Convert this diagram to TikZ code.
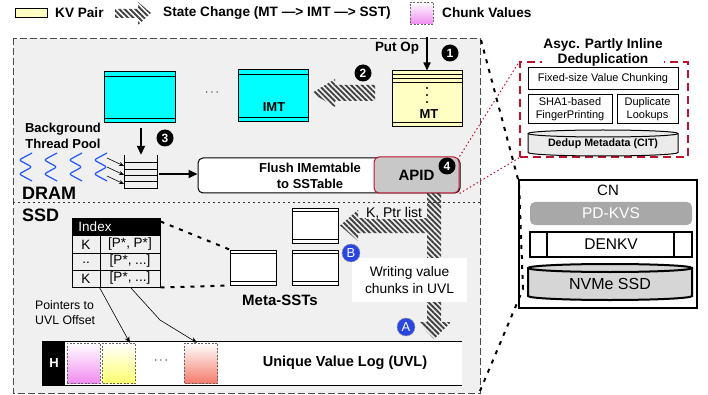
\documentclass[tikz,border=0pt]{standalone}
\usepackage{fontspec}
\setmainfont{Liberation Sans}
\usetikzlibrary{arrows.meta,patterns.meta,calc}
\definecolor{bggray}{HTML}{F0F0F0}
\definecolor{kvyellow}{HTML}{FFFFC4}
\definecolor{imtcyan}{HTML}{00FFFF}
\definecolor{apidgray}{HTML}{C8C8C8}
\definecolor{dedupred}{HTML}{C0142E}
\definecolor{pdgray}{HTML}{A8A8A8}
\definecolor{ssdgray}{HTML}{D6D6D6}
\definecolor{citgray}{HTML}{EBEBEB}
\definecolor{chunkpink}{HTML}{F08CF0}
\definecolor{chunkyellow}{HTML}{FFFF70}
\definecolor{chunksalmon}{HTML}{F47C6C}
\definecolor{threadblue}{HTML}{2255FF}
\definecolor{stepblue}{HTML}{2A46E0}
\begin{document}
\begin{tikzpicture}[x=1pt,y=-1pt,
  lgd/.style={font=\fontsize{13.6}{16}\selectfont\bfseries,anchor=west,inner sep=0pt},
  lbl/.style={font=\fontsize{13}{16}\selectfont\bfseries,align=center,inner sep=0pt},
  plain/.style={font=\fontsize{11}{13}\selectfont,align=center,inner sep=0pt},
  numc/.style={circle,fill=black,text=white,inner sep=0pt,minimum size=17pt,font=\fontsize{12}{12}\selectfont\bfseries},
  letc/.style={circle,fill=stepblue,draw=black!40,text=white,inner sep=0pt,minimum size=18pt,font=\fontsize{13}{13}\selectfont},
  memtab/.style={draw,line width=1pt,inner sep=0pt},
  hatch/.style={pattern={Lines[angle=-45,distance=3.8pt,line width=1.9pt]},pattern color=black!75},
  bolddots/.style={line width=2pt,dash pattern=on 4pt off 6pt},
  reddots/.style={dedupred,line width=1pt,dash pattern=on 1.5pt off 2.5pt},
  chunk/.style={draw=black!60,dash pattern=on 2pt off 1.5pt,line width=0.6pt,inner sep=0pt,minimum width=33pt,minimum height=40pt,top color=white},
  bigarrow/.style={-{Triangle[length=9pt,width=8pt]},line width=1.8pt},
  ptr/.style={-{Stealth[length=6pt,width=5pt]},line width=0.6pt}]
\useasboundingbox (0,0) rectangle (708,395);
% legend
\node[draw,line width=1pt,fill=kvyellow,minimum width=32pt,minimum height=9pt,inner sep=0pt] (kvbox) at (31,13.5) {};
\node[lgd] (kvtxt) at (55,13) {KV Pair};
\fill[hatch] (115,9) -- (138,9) -- (138,2) -- (151,13) -- (138,25) -- (138,18) -- (115,18) -- cycle;
\node[lgd] (sctxt) at (163,13) {State Change (MT —> IMT —> SST)};
\node[chunk,bottom color=chunkpink,minimum width=23pt,minimum height=22pt] (cvbox) at (421.5,13) {};
\node[lgd] (cvtxt) at (442,13) {Chunk Values};
% DRAM / SSD frame
\draw[fill=bggray,draw=black!70,line width=0.8pt,dash pattern=on 7pt off 3pt] (13,38) rectangle (480,393);
\draw[black!80,line width=0.9pt,dash pattern=on 2pt off 3pt] (13,202) -- (480,202);
\node[font=\fontsize{18}{18}\selectfont\bfseries,anchor=west,inner sep=0pt] (dram) at (22,193) {DRAM};
\node[font=\fontsize{18}{18}\selectfont\bfseries,anchor=west,inner sep=0pt] (ssd) at (22,215) {SSD};
% memtables
\node[memtab,fill=imtcyan,minimum width=71pt,minimum height=51pt] (imt0) at (140,97.5) {};
\node[memtab,fill=imtcyan,minimum width=70pt,minimum height=52pt] (imt) at (273,96) {};
\foreach \n in {imt0,imt} {
  \draw[line width=1pt] ([yshift=-5pt]\n.north west) -- ([yshift=-5pt]\n.north east);
  \draw[line width=1pt] ([yshift=5pt]\n.south west) -- ([yshift=5pt]\n.south east);
}
\node[font=\fontsize{13}{13}\selectfont] (dots) at (212,93) {$\cdots$};
\node[lbl] (imttxt) at (274,107) {IMT};
\node[memtab,fill=kvyellow,minimum width=70pt,minimum height=56pt] (mt) at (427,99) {};
\foreach \d in {4,8,12}
  \draw[line width=0.8pt] ([yshift=-\d pt]mt.north west) -- ([yshift=-\d pt]mt.north east);
\draw[line width=0.8pt] ([yshift=5pt]mt.south west) -- ([yshift=5pt]mt.south east);
\foreach \y in {88,95,102} \fill (427,\y) circle (1.1pt);
\node[lbl] (mttxt) at (429,114) {MT};
\coordinate (putin) at (427,37);
\draw[-{Triangle[length=8pt,width=7pt]},line width=1.6pt] (putin) -- (mt.north);
\node[lbl,font=\fontsize{13.4}{16}\selectfont\bfseries] (putop) at (397,48) {Put Op};
\node[numc] (n1) at (450,53) {1};
\fill[hatch] (375,85) -- (335,85) -- (335,79) -- (312,93) -- (335,107) -- (335,101) -- (375,101) -- cycle;
\node[numc] (n2) at (363,73) {2};
% background threads and flush queue
\node[lbl] (bgpool) at (63,136) {Background\\Thread Pool};
\foreach \x in {18,43,68,93}
  \draw[threadblue,line width=1.2pt,rounded corners=2.5pt] (\x+14,153) -- (\x+1,160) -- (\x+14,167) -- (\x+1,174) -- (\x+14,181);
\node[minimum width=32pt,minimum height=33pt,inner sep=0pt] (queue) at (141,171.5) {};
\draw[line width=1pt] (queue.north west) -- (queue.south west) -- (queue.south east) -- (queue.north east);
\foreach \y in {163,169.5,176,182} \draw[line width=1pt] (125,\y) -- (157,\y);
\foreach \ya/\yb in {158/166,167/175,176/184}
  \draw[-{Stealth[length=5pt,width=4pt]},line width=0.6pt] (107,\ya) -- (124,\yb);
\draw[bigarrow] ([yshift=-5pt]imt0.south -| queue.north) -- (queue.north);
\node[numc] (n3) at (165,138) {3};
\node[draw,fill=white,line width=1pt,rounded corners=5pt,minimum width=262pt,minimum height=35pt] (flush) at (329,175.5) {};
\draw[bigarrow] ([xshift=2pt]queue.east |- 0,174) -- (flush.west |- 0,174);
\node[lbl] (flushtxt) at (310,176) {Flush IMemtable\\to SSTable};
\node[draw=dedupred,fill=apidgray,line width=1pt,rounded corners=5pt,minimum width=85pt,minimum height=36pt,font=\fontsize{15}{15}\selectfont\bfseries] (apid) at (416.5,175) {APID};
\node[numc] (n4) at (447,166) {4};
% deduplication
\node[draw=dedupred,line width=1.2pt,dash pattern=on 8pt off 5pt,minimum width=168pt,minimum height=95pt] (dedup) at (604,109.5) {};
\node[lbl,fill=white,inner sep=1pt,font=\fontsize{13.7}{15}\selectfont\bfseries] (deduptitle) at (603,52) {Asyc. Partly Inline\\Deduplication};
\node[draw,fill=white,line width=1pt,minimum width=150pt,minimum height=22pt,plain] (chunking) at (603,79) {Fixed-size Value Chunking};
\node[draw,fill=white,line width=1pt,minimum width=84pt,minimum height=29pt,plain] (sha) at (570,109.5) {SHA1-based\\FingerPrinting};
\node[draw,fill=white,line width=1pt,minimum width=61pt,minimum height=29pt,plain] (lookup) at (647.5,109.5) {Duplicate\\Lookups};
\filldraw[fill=citgray,line width=1pt] (528,152.5) arc[start angle=180,end angle=360,x radius=75pt,y radius=3.5pt] -- (678,133.5) arc[start angle=0,end angle=180,x radius=75pt,y radius=3.5pt] -- cycle;
\draw[line width=1pt] (528,133.5) arc[start angle=180,end angle=360,x radius=75pt,y radius=3.5pt];
\node[font=\fontsize{10.7}{12}\selectfont\bfseries,inner sep=0pt] (cit) at (603,144) {Dedup Metadata (CIT)};
\draw[reddots] (apid.north east) -- (dedup.north west);
\draw[reddots] (apid.south east) -- (dedup.south west);
% compute node
\node[draw,line width=2pt,minimum width=178pt,minimum height=128pt] (cn) at (608,244) {};
\node[font=\fontsize{15}{15}\selectfont,inner sep=0pt] (cntxt) at (608,190) {CN};
\node[fill=pdgray,rounded corners=5pt,minimum width=162pt,minimum height=23pt,text=white,font=\fontsize{15.5}{15.5}\selectfont] (pdkvs) at (611,213.5) {PD-KVS};
\node[draw,line width=1.6pt,minimum width=162pt,minimum height=25pt,font=\fontsize{15.5}{15.5}\selectfont] (denkv) at (611,244.5) {DENKV};
\draw[line width=1.6pt] (547,232) -- (547,257) (674,232) -- (674,257);
\filldraw[fill=ssdgray,line width=2pt] (528,296) arc[start angle=180,end angle=360,x radius=82pt,y radius=4pt] -- (692,268) arc[start angle=0,end angle=180,x radius=82pt,y radius=4pt] -- cycle;
\draw[line width=2pt] (528,268) arc[start angle=180,end angle=360,x radius=82pt,y radius=4pt];
\node[font=\fontsize{16}{16}\selectfont,inner sep=0pt] (nvme) at (610,284) {NVMe SSD};
\coordinate (ssdtr) at (481,40);
\coordinate (ssdbr) at (480,391);
\coordinate (nvmel) at (523,289);
\draw[bolddots] (ssdtr) -- ([xshift=1pt,yshift=-4pt]cn.north west) -- (nvmel);
\draw[bolddots] (ssdbr) -- (nvmel);
% index and meta SSTs
\node[draw,line width=1pt,minimum width=88pt,minimum height=69pt,inner sep=0pt] (index) at (116,252.5) {};
\fill[black] (index.north west) rectangle (160,236);
\draw[line width=1pt] (72,253) -- (160,253) (72,270) -- (160,270) (100,236) -- (100,287);
\node[font=\fontsize{13.5}{13.5}\selectfont,text=white,inner sep=0pt] (idxhead) at (95,227) {Index};
\node[font=\fontsize{13.5}{13.5}\selectfont,inner sep=0pt] (k1) at (86,244.5) {K};
\node[font=\fontsize{13.5}{13.5}\selectfont,inner sep=0pt] (p1) at (130,244.5) {[P*, P*]};
\node[font=\fontsize{13.5}{13.5}\selectfont,inner sep=0pt] (k2) at (86,263) {..};
\node[font=\fontsize{13.5}{13.5}\selectfont,inner sep=0pt] (p2) at (130,261.5) {[P*, ...]};
\node[font=\fontsize{13.5}{13.5}\selectfont,inner sep=0pt] (k3) at (86,278.5) {K};
\node[font=\fontsize{13.5}{13.5}\selectfont,inner sep=0pt] (p3) at (130,278.5) {[P*, ...]};
\node[memtab,fill=white,minimum width=46pt,minimum height=35pt] (msst1) at (253,267.5) {};
\node[memtab,fill=white,minimum width=46pt,minimum height=35pt] (msst2) at (315,225.5) {};
\node[memtab,fill=white,minimum width=46pt,minimum height=35pt] (msst3) at (315,267.5) {};
\foreach \n in {msst1,msst2,msst3} {
  \draw[line width=1pt] ([yshift=-4pt]\n.north west) -- ([yshift=-4pt]\n.north east);
  \draw[line width=1pt] ([yshift=4pt]\n.south west) -- ([yshift=4pt]\n.south east);
}
\draw[bolddots] ([yshift=-4pt]index.north east) -- (msst1.north west);
\draw[bolddots] (index.south east) -- (msst1.south west);
\node[lbl,font=\fontsize{15}{15}\selectfont\bfseries] (metatxt) at (280,300) {Meta-SSTs};
% value write path
\fill[hatch] (427,193) -- (441,193) -- (441,322) -- (451,322) -- (434,339) -- (418,322) -- (427,322) -- (427,233) -- (358,233) -- (358,241) -- (340,225.5) -- (358,210) -- (358,218) -- (427,218) -- cycle;
\node[fill=bggray,inner sep=0.5pt,font=\fontsize{14}{14}\selectfont] (kptr) at (394,213) {K, Ptr list};
\node[fill=white,minimum width=115pt,minimum height=44pt,align=center,font=\fontsize{13.8}{17}\selectfont] (writing) at (409.5,280) {Writing value\\chunks in UVL};
\node[letc] (stepb) at (351,253) {B};
\node[letc] (stepa) at (406,327) {A};
% unique value log
\node[fill=white,minimum width=419pt,minimum height=43pt,inner sep=0pt] (uvl) at (252.5,363.5) {};
\draw[line width=1pt] (uvl.north east) -- (uvl.north west) -- (uvl.south west) -- (uvl.south east);
\fill[black] (uvl.north west) rectangle (65,385);
\node[font=\fontsize{13}{13}\selectfont\bfseries,text=white,inner sep=0pt] (hdr) at (54,363.5) {H};
\node[chunk,bottom color=chunkpink] (cpink) at (83.5,363) {};
\node[chunk,bottom color=chunkyellow] (cyellow) at (119,363) {};
\node[font=\fontsize{13}{13}\selectfont] (udots) at (161,361) {$\cdots$};
\node[chunk,bottom color=chunksalmon] (csalmon) at (201,363) {};
\node[font=\fontsize{14.5}{14.5}\selectfont\bfseries,inner sep=0pt] (uvltxt) at (345,363) {Unique Value Log (UVL)};
\node[font=\fontsize{12.3}{15}\selectfont,align=left,anchor=west,inner sep=0pt] (ptrtxt) at (35,313) {Pointers to\\UVL Offset};
\draw[ptr] ($(index.south west)+(28,0)$) -- ($(cyellow.north east)+(-6,0)$);
\draw[ptr] ($(index.south west)+(59,0)$) -- (160,320) -- ($(csalmon.north)+(-4,0)$);
\end{tikzpicture}
\end{document}
